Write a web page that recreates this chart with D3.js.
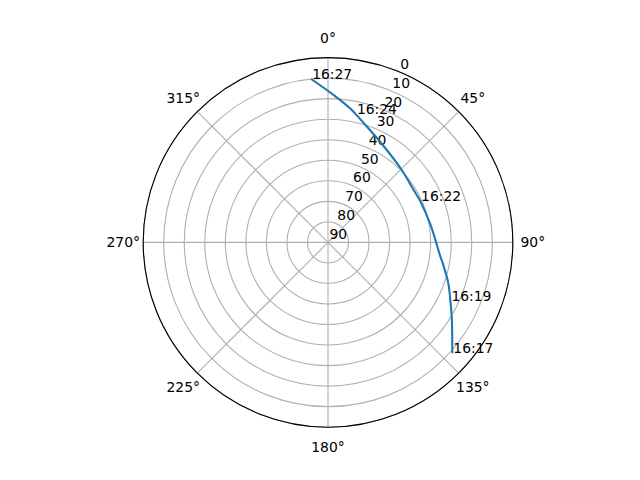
<!DOCTYPE html>
<html>
<head>
<meta charset="utf-8">
<script src="https://cdn.jsdelivr.net/npm/d3@7"></script>
<style>
  body { margin: 0; background: #fff; }
  text { font-family: "DejaVu Sans", sans-serif; font-size: 13.9px; fill: #000; }
</style>
</head>
<body>
<div id="container"></div>
<script>
const width = 640;
const height = 480;

// Satellite pass: azimuth (deg, clockwise from north) and elevation (deg)
const trackAz = [131.7, 121.0, 115.6, 108.8, 100.3, 96.4, 88.9, 79.3, 65.7, 58.4, 45.2, 27.8, 18.5, 12.3, 9.3, 2.1, 354.1];
const trackEl = [8.9, 19.7, 23.9, 28.1, 33.2, 35.2, 37.6, 39.5, 40.8, 41.1, 39.6, 35.0, 30.5, 26.2, 23.8, 18.1, 10.0];

// Time labels and which track point they belong to
const labelTimes = ["16:17", "16:19", "16:22", "16:24", "16:27"];
const labelIdx = [0, 2, 8, 13, 16];

// Axis ticks
const angleTicks = [0, 45, 90, 135, 180, 225, 270, 315];
const elevTicks = [0, 10, 20, 30, 40, 50, 60, 70, 80, 90];

// matplotlib-like polar axes box
const cx = 328, cy = 242.4, radius = 184.8;

const r = d3.scaleLinear().domain([90, 0]).range([0, radius]);
const rad = d => d * Math.PI / 180;

let svg = d3.select("#container")
	.append("svg")
	.attr("width", width)
	.attr("height", height)
	.append("g")
	.attr("transform", "translate(" + cx + "," + cy + ")");

// Radial grid lines
svg.selectAll("line.spoke")
	.data(angleTicks)
	.enter()
	.append("line")
	.attr("x1", 0).attr("y1", 0)
	.attr("x2", d => radius * Math.sin(rad(d)))
	.attr("y2", d => -radius * Math.cos(rad(d)))
	.attr("stroke", "#b0b0b0")
	.attr("stroke-width", 1.1);

// Elevation rings
svg.selectAll("circle.ring")
	.data(elevTicks.filter(d => d < 90))
	.enter()
	.append("circle")
	.attr("r", d => r(d))
	.attr("fill", "none")
	.attr("stroke", "#b0b0b0")
	.attr("stroke-width", 1.1);

// Outer spine
svg.append("circle")
	.attr("r", radius)
	.attr("fill", "none")
	.attr("stroke", "#000")
	.attr("stroke-width", 1.1);

// Angle labels
svg.selectAll("text.angle")
	.data(angleTicks)
	.enter()
	.append("text")
	.attr("x", d => (radius + 20) * Math.sin(rad(d)))
	.attr("y", d => -(radius + 20) * Math.cos(rad(d)))
	.attr("text-anchor", "middle")
	.attr("dominant-baseline", "central")
	.text(d => d + "°");

// Elevation labels along 22.5°
svg.selectAll("text.elev")
	.data(elevTicks)
	.enter()
	.append("text")
	.attr("x", d => r(d) * Math.sin(rad(22.5)) + 1.5)
	.attr("y", d => -r(d) * Math.cos(rad(22.5)) - 3)
	.text(d => d);

// Track (unwrap azimuth so the path does not jump across north)
let track = trackAz.map((a, i) => ({ az: a > 180 ? a - 360 : a, el: trackEl[i] }));

let line = d3.lineRadial()
	.angle(d => rad(d.az))
	.radius(d => r(d.el))
	.curve(d3.curveCatmullRom);

svg.append("path")
	.datum(track)
	.attr("d", line)
	.attr("fill", "none")
	.attr("stroke", "#1f77b4")
	.attr("stroke-width", 2.1);

// Time annotations
svg.selectAll("text.time")
	.data(labelTimes)
	.enter()
	.append("text")
	.attr("x", (d, i) => r(track[labelIdx[i]].el) * Math.sin(rad(track[labelIdx[i]].az)) + 1)
	.attr("y", (d, i) => -r(track[labelIdx[i]].el) * Math.cos(rad(track[labelIdx[i]].az)))
	.text(d => d);
</script>
</body>
</html>
